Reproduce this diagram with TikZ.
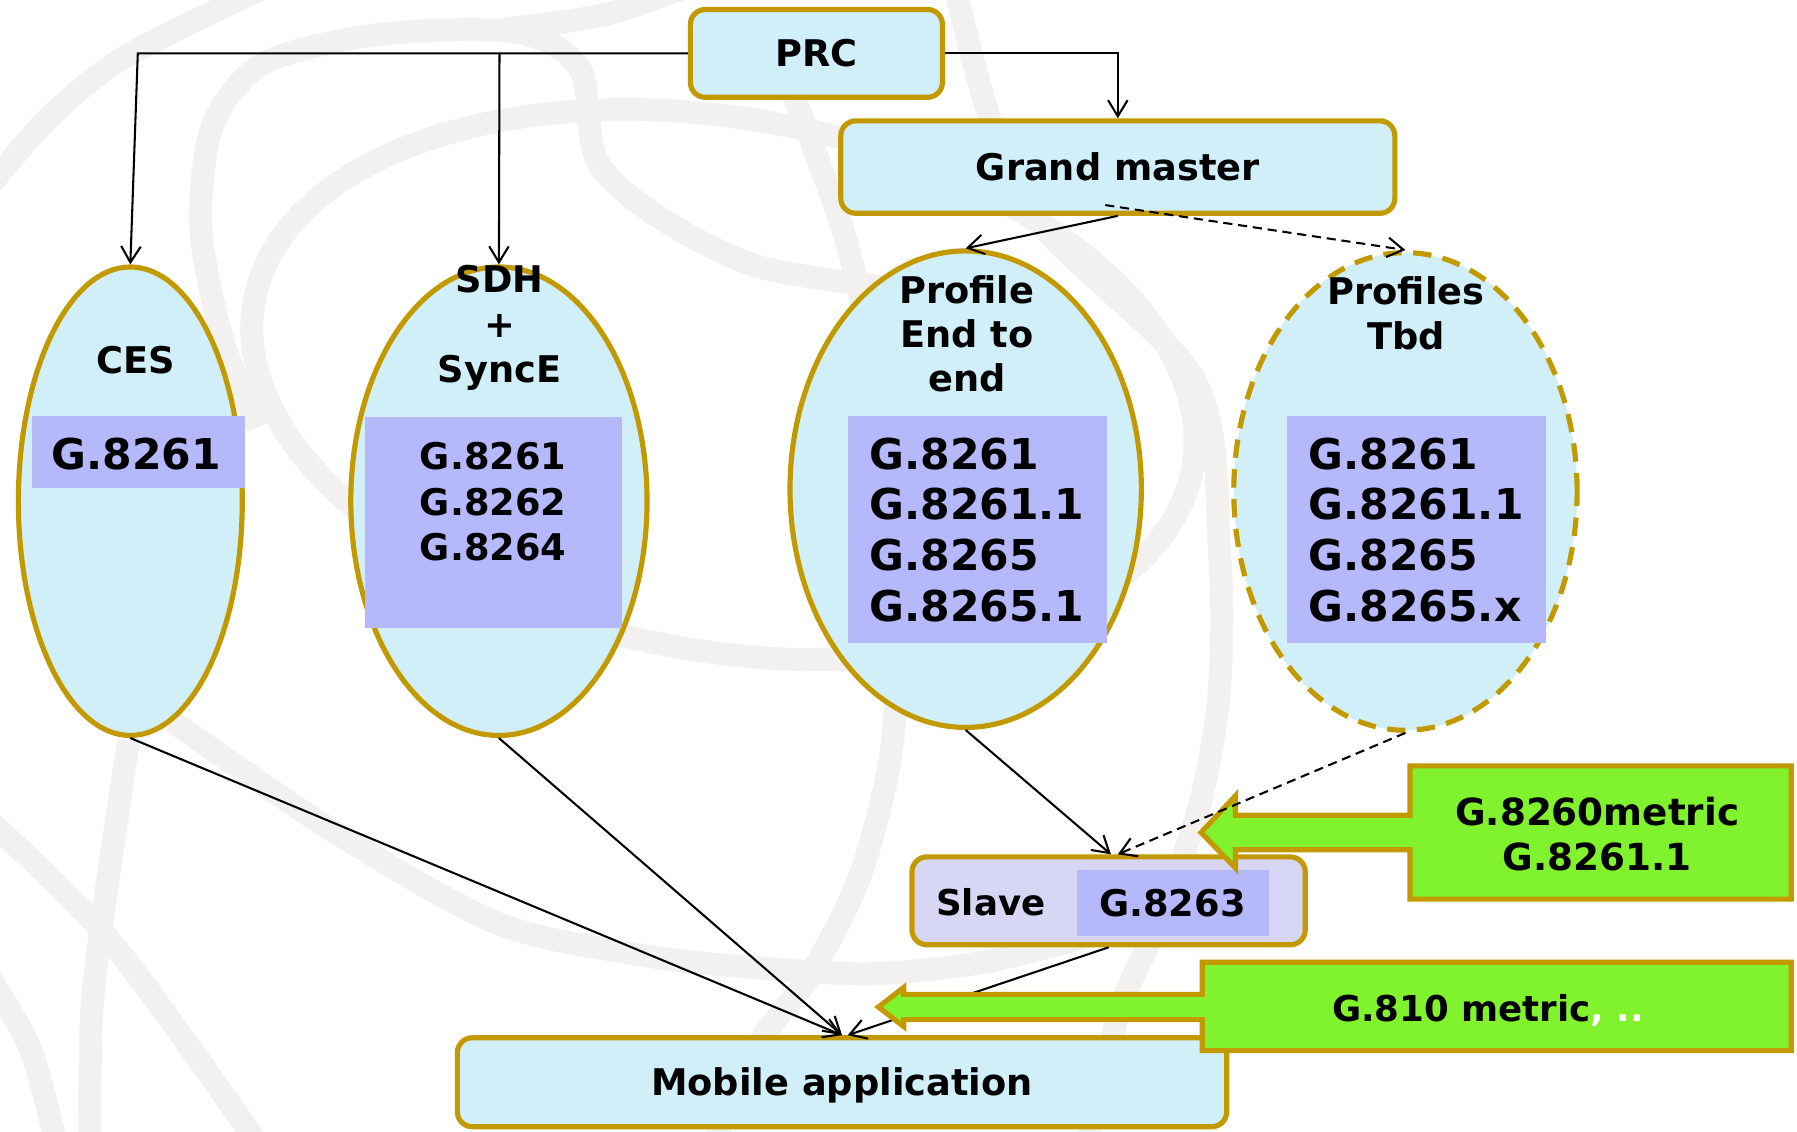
\documentclass[tikz,border=0pt]{standalone}
\usepackage{fontspec}
\setmainfont{DejaVu Sans}
\usetikzlibrary{arrows.meta,shapes.geometric,calc}
\definecolor{gold}{HTML}{C29A00}
\definecolor{cyanfill}{HTML}{D0EFF9}
\definecolor{codefill}{HTML}{B6B8FC}
\definecolor{slavefill}{HTML}{D7D7F5}
\definecolor{calloutgreen}{HTML}{80F22E}
\definecolor{wmgrey}{HTML}{F2F1EF}
\begin{document}
\begin{tikzpicture}[x=1pt,y=-1pt,
  wm/.style={draw=wmgrey, line width=20pt},
  rbox/.style={draw=gold, line width=4.5pt, fill=cyanfill, rounded corners=13pt, inner sep=0pt,
    font=\fontsize{32}{38}\selectfont\bfseries, text height=23.3pt, text depth=0pt},
  oval/.style={ellipse, draw=gold, line width=4.5pt, fill=cyanfill, inner sep=0pt},
  codebox/.style={fill=codefill, inner sep=0pt},
  lbl/.style={font=\fontsize{32}{38}\selectfont\bfseries, inner sep=0pt, anchor=base},
  bigcode/.style={font=\fontsize{37}{44}\selectfont\bfseries, inner sep=0pt, anchor=base west},
  midcode/.style={font=\fontsize{32}{38}\selectfont\bfseries, inner sep=0pt, anchor=base},
  callout/.style={draw=gold, line width=4.5pt, fill=calloutgreen, line join=miter},
  conn/.style={draw=black, line width=1.8pt, -{Straight Barb[length=14pt,width=17pt]}},
  dconn/.style={conn, dash pattern=on 8pt off 5pt}
]
\useasboundingbox (0,0) rectangle (1565,985);
\fill[white] (0,0) rectangle (1565,985);
% background watermark
\begin{scope}
\clip (0,0) rectangle (1565,985);
\draw[wm] plot[smooth] coordinates {(-20,175) (40,105) (100,55) (170,18) (250,-20)};
\draw[wm] plot[smooth] coordinates {(225,372) (195,300) (175,200) (185,110) (230,55) (330,30) (450,28) (505,60) (520,140) (575,190) (660,232) (770,250)};
\draw[wm] plot[smooth] coordinates {(440,25) (530,12) (620,-20)};
\draw[wm, rotate around={-10:(630,335)}] (630,335) ellipse [x radius=415, y radius=232];
\draw[wm] plot[smooth] coordinates {(690,80) (740,220) (765,360) (775,500) (778,640) (750,760) (705,850) (660,910) (620,1000)};
\draw[wm] plot[smooth] coordinates {(830,-20) (890,174) (1040,330) (1062,480) (1062,600) (1045,700) (1010,800) (975,880) (945,1000)};
\draw[wm] plot[smooth] coordinates {(150,628) (289,723) (433,804) (560,832) (650,842) (758,848) (867,836) (1000,800)};
\draw[wm] plot[smooth] coordinates {(-20,705) (94,817) (217,985) (225,1000)};
\draw[wm] plot[smooth] coordinates {(112,645) (92,780) (80,880) (78,1000)};
\draw[wm] plot[smooth] coordinates {(-20,835) (25,910) (50,1000)};
\end{scope}

% ellipses
\node[oval, minimum width=195, minimum height=408] (CES) at (113.5,436.5) {};
\node[oval, minimum width=258, minimum height=408] (SDH) at (434.5,436.5) {};
\node[oval, minimum width=306, minimum height=415] (PE) at (841,426) {};
\node[oval, dash pattern=on 16pt off 10pt, minimum width=299, minimum height=416] (TBD) at (1224,428) {};

% code boxes
\node[codebox, minimum width=185, minimum height=63] (cesb) at (120.5,393.5) {};
\node[codebox, minimum width=224, minimum height=184] (sdhb) at (430,455) {};
\node[codebox, minimum width=225.5, minimum height=198] (peb) at (851.25,461) {};
\node[codebox, minimum width=225, minimum height=198] (tbdb) at (1233.5,461) {};

% ellipse labels
\node[lbl] (cesl) at (118.6,325) {CES};
\node[lbl] (sdh1) at (435,255) {SDH};
\node[lbl] (sdh2) at (435,294) {+};
\node[lbl] (sdh3) at (435,333) {SyncE};
\node[lbl] (pe1) at (842,264) {Profile};
\node[lbl] (pe2) at (842,302.5) {End to};
\node[lbl] (pe3) at (842,341) {end};
\node[lbl] (tb1) at (1224.5,265) {Profiles};
\node[lbl] (tb2) at (1224.5,304) {Tbd};

% codes
\node[font=\fontsize{37}{44}\selectfont\bfseries, inner sep=0pt, anchor=base] (cesc) at (118.5,409) {G.8261};
\node[midcode] (sc1) at (429.5,409) {G.8261};
\node[midcode] (sc2) at (429.5,449) {G.8262};
\node[midcode] (sc3) at (429.5,488) {G.8264};
\node[bigcode] (pc1) at (757,408.5) {G.8261};
\node[bigcode] (pc2) at (757,452.7) {G.8261.1};
\node[bigcode] (pc3) at (757,496.9) {G.8265};
\node[bigcode] (pc4) at (757,541.1) {G.8265.1};
\node[bigcode] (tc1) at (1139.5,408.5) {G.8261};
\node[bigcode] (tc2) at (1139.5,452.7) {G.8261.1};
\node[bigcode] (tc3) at (1139.5,496.9) {G.8265};
\node[bigcode] (tc4) at (1139.5,541.1) {G.8265.x};

% boxes
\node[rbox, minimum width=219.5, minimum height=76.5] (PRC) at (711,46.5) {PRC};
\node[rbox, minimum width=482.5, minimum height=80.5] (GM) at (973.5,145.5) {Grand master};
\node[rbox, fill=slavefill, minimum width=342.5, minimum height=76.5] (SLV) at (965.5,784.5) {};
\node[codebox, minimum width=167.5, minimum height=57] (slvb) at (1021.75,786.5) {};
\node[lbl, font=\fontsize{31}{36}\selectfont\bfseries] (slvl) at (863,797.5) {Slave};
\node[lbl, font=\fontsize{32}{38}\selectfont\bfseries] (slvc) at (1021,798) {G.8263};
\node[rbox, minimum width=670, minimum height=77.5] (MOB) at (733.3,942.5) {Mobile application};

% callout 1
\path[callout] (1228,667) -- (1560,667) -- (1560,783) -- (1228,783) -- (1228,740) -- (1076,740) -- (1076,756) -- (1046,725) -- (1076,693) -- (1076,710) -- (1228,710) -- cycle;
\node[lbl, font=\fontsize{32.5}{38}\selectfont\bfseries] (c1a) at (1391,718.6) {G.8260metric};
\node[lbl, font=\fontsize{32.5}{38}\selectfont\bfseries] (c1b) at (1391,758) {G.8261.1};

% connectors
\coordinate (j1) at (120,46.5);
\coordinate (j2) at (435,46.5);
\coordinate (gmd) at (962.5,178.6);
\draw[conn] (PRC.west) -- (j1) -- (CES.north);
\draw[conn] (j2) -- (SDH.north);
\draw[conn] (PRC.east) -| (GM.north);
\draw[conn] (GM.south) -- (PE.north);
\draw[dconn] (gmd) -- (TBD.north);
\draw[conn] (CES.south) -- (MOB.north);
\draw[conn] (SDH.south) -- (MOB.north);
\draw[conn] (PE.south) -- ($(SLV.north)+(2,0)$);
\draw[dconn] (TBD.south) -- ($(SLV.north)+(8,0)$);
\draw[conn] (SLV.south) -- ($(MOB.north)+(5,0)$);

% callout 2
\path[callout] (1047,838) -- (1560,838) -- (1560,915) -- (1047,915) -- (1047,888) -- (787,888) -- (787,894) -- (765,877) -- (787,860) -- (787,866) -- (1047,866) -- cycle;
\node[lbl, anchor=base west, font=\fontsize{31}{36}\selectfont\bfseries] (c2) at (1160,890) {G.810 metric{\color{white}, ..}};
\end{tikzpicture}
\end{document}
